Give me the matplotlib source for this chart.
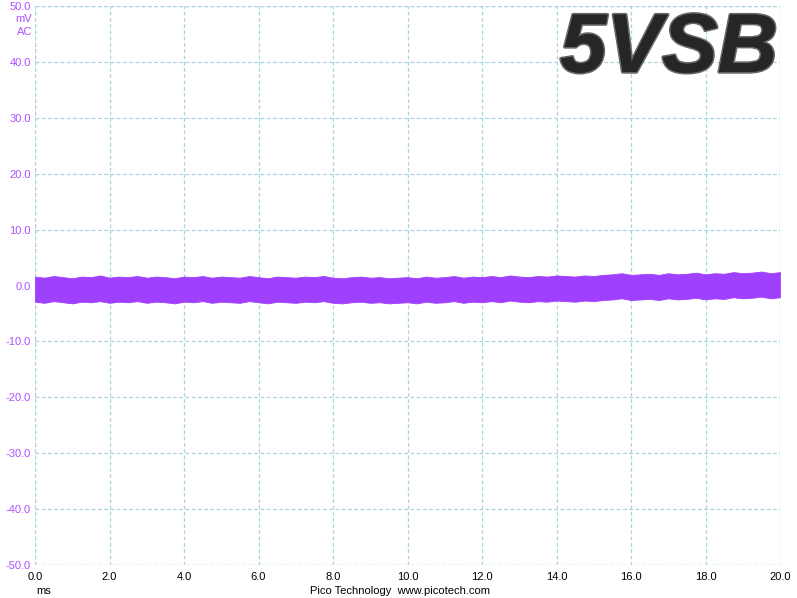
import numpy as np
import matplotlib
matplotlib.use("Agg")
import matplotlib.pyplot as plt
import matplotlib.patheffects as pe

# time axis (ms), envelope of the noise band (mV)
t_ms = np.arange(0, 20.01, 0.25)
upper_mv = [1.6, 1.4, 1.7, 1.5, 1.3, 1.6, 1.5, 1.8, 1.4, 1.6,
            1.5, 1.7, 1.4, 1.6, 1.5, 1.3, 1.6, 1.5, 1.7, 1.4,
            1.6, 1.5, 1.4, 1.7, 1.5, 1.3, 1.6, 1.5, 1.4, 1.6,
            1.5, 1.7, 1.4, 1.3, 1.5, 1.6, 1.4, 1.5, 1.3, 1.4,
            1.5, 1.3, 1.6, 1.4, 1.5, 1.7, 1.4, 1.6, 1.5, 1.7,
            1.5, 1.8, 1.6, 1.5, 1.7, 1.6, 1.8, 1.7, 1.6, 1.8,
            1.7, 1.9, 2.0, 2.2, 1.9, 2.0, 2.1, 1.9, 2.2, 2.0,
            2.1, 2.3, 2.0, 2.2, 2.1, 2.4, 2.2, 2.3, 2.5, 2.2,
            2.4]
lower_mv = [-2.9, -3.1, -2.8, -3.0, -3.2, -2.9, -3.0, -2.8, -3.1, -2.9,
            -3.0, -2.8, -3.1, -2.9, -3.0, -3.2, -2.9, -3.0, -2.8, -3.1,
            -2.9, -3.0, -3.1, -2.8, -3.0, -3.2, -2.9, -3.0, -3.1, -2.9,
            -3.0, -2.8, -3.1, -3.2, -3.0, -2.9, -3.1, -3.0, -3.2, -3.1,
            -3.0, -3.2, -2.9, -3.1, -3.0, -2.8, -3.1, -2.9, -3.0, -2.8,
            -3.0, -2.7, -2.9, -3.0, -2.8, -2.9, -2.7, -2.8, -2.9, -2.7,
            -2.8, -2.6, -2.5, -2.3, -2.6, -2.5, -2.4, -2.6, -2.3, -2.5,
            -2.4, -2.2, -2.5, -2.3, -2.4, -2.1, -2.3, -2.2, -2.0, -2.3,
            -2.1]

x_ticks = np.arange(0, 20.01, 2)
y_ticks = np.arange(-50, 50.01, 10)

purple = '#a040ff'
label_purple = '#b050ff'
grid_col = '#a8d4e0'

plt.rcParams['font.family'] = ['Liberation Sans', 'DejaVu Sans']

fig = plt.figure(figsize=(7.97, 5.98), dpi=100)
W, H = 797, 598
ax = fig.add_axes([35 / W, (H - 565) / H, (780 - 35) / W, (565 - 6) / H])

ax.fill_between(t_ms, lower_mv, upper_mv, color=purple, lw=0.6,
                edgecolor=purple, zorder=3)

ax.set_xlim(0, 20)
ax.set_ylim(-50, 50)
ax.set_xticks(x_ticks)
ax.set_yticks(y_ticks)
ax.set_xticklabels(['%.1f' % v for v in x_ticks], fontsize=8, color='black')
ax.set_yticklabels(['%.1f' % v for v in y_ticks], fontsize=8, color=label_purple)
ax.tick_params(length=0, pad=3)
ax.tick_params(axis='x', pad=5)
ax.grid(True, color=grid_col, linestyle=(0, (3, 2)), linewidth=0.9)
for s in ax.spines.values():
    s.set_visible(False)
# dashed frame like the grid
for v in (0, 20):
    ax.axvline(v, color=grid_col, linestyle=(0, (3, 2)), linewidth=0.9, zorder=1)
for v in (-50, 50):
    ax.axhline(v, color=grid_col, linestyle=(0, (3, 2)), linewidth=0.9, zorder=1)

fig.text(32 / W, 1 - 19 / H, 'mV', ha='right', va='center', fontsize=8, color=label_purple)
fig.text(32 / W, 1 - 32 / H, 'AC', ha='right', va='center', fontsize=8, color=label_purple)
fig.text(36 / W, 1 - 591 / H, 'ms', ha='left', va='center', fontsize=8)
fig.text(400 / W, 1 - 591 / H, 'Pico Technology  www.picotech.com', ha='center',
         va='center', fontsize=8)

fig.text(778 / W, 1 - 50 / H, '5VSB', ha='right', va='center', fontsize=60,
         fontweight='bold', fontstyle='italic', color='#262626',
         path_effects=[pe.withStroke(linewidth=2.5, foreground='#666666'), pe.Normal()],
         zorder=5)

fig.savefig('out.png', dpi=100)
